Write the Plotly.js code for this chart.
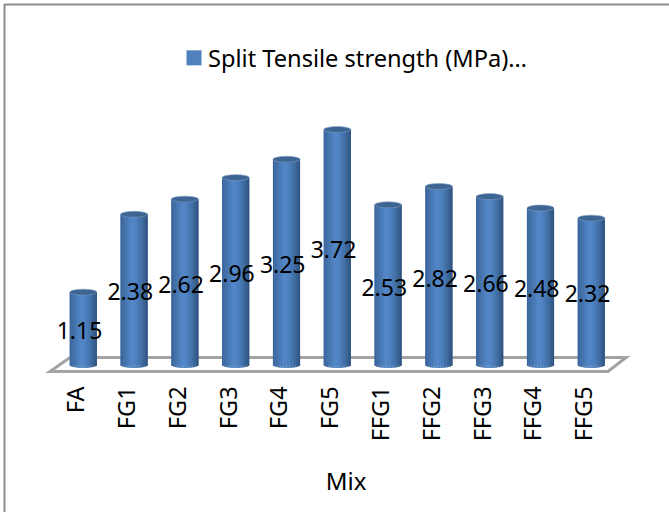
<!DOCTYPE html>
<html>
<head>
<meta charset="utf-8">
<script src="https://cdn.plot.ly/plotly-3.0.1.min.js"></script>
<style>html,body{margin:0;padding:0;background:#fff}#c{width:669px;height:512px}</style>
</head>
<body>
<div id="c"></div>
<script>
var categories = ["FA","FG1","FG2","FG3","FG4","FG5","FFG1","FFG2","FFG3","FFG4","FFG5"];
var values = [1.15,2.38,2.62,2.96,3.25,3.72,2.53,2.82,2.66,2.48,2.32];
var labels = ["1.15","2.38","2.62","2.96","3.25","3.72","2.53","2.82","2.66","2.48","2.32"];
var seriesName = "Split Tensile strength (MPa)…";
var axisTitle = "Mix";

var W=669,H=512,ML=23,MB=138,plotW=W-ML,plotH=H-MB;
var sx=50.8, sy=63.3;              // pixels per unit
var x0=-(76.5-ML)/sx, x1=x0+plotW/sx;
var y1=365/sy, y0=y1-plotH/sy;
var barShift=6.8/sx, labelShift=3/sx, labelDrop=5/sy, barW=27/sx, capH=3/sy;
function dx(p){return x0+(p-ML)/sx;}
function dy(p){return (365-p)/sy;}
function px(p){return (p-ML)/plotW;}
function py(p){return (plotH-p)/plotH;}

function mix(a,b,t){return a.map(function(v,i){return Math.round(v+(b[i]-v)*t);});}
var cL=[58,100,152],cM=[83,136,200],cR=[44,80,122];
function shade(t){ // t in -1..1
  var c = t<-0.15 ? mix(cL,cM,(t+1)/0.85) : mix(cM,cR,Math.pow((t+0.15)/1.15,1.6));
  return "rgb("+c.join(",")+")";
}
var N=18, sx_=[],sb=[],sy_=[],sc=[],w=barW/N;
categories.forEach(function(c,i){
  for(var k=0;k<N;k++){
    var t=-1+(2*k+1)/N, low=-capH*Math.sqrt(1-t*t);
    sx_.push(i+barShift+t*barW/2); sb.push(low); sy_.push(values[i]-low); sc.push(shade(t));
  }
});

var idx=categories.map(function(c,i){return i;});
var traces=[
 {type:"bar",x:idx.map(function(i){return i+barShift;}),y:values,width:barW,marker:{color:"#4f81bd"},showlegend:false,hoverinfo:"skip"},
 {type:"bar",x:sx_,y:sy_,base:sb,width:w*1.15,marker:{color:sc,line:{width:0}},showlegend:false,hoverinfo:"skip"},
 {type:"scatter",mode:"text",x:idx.map(function(i){return i+labelShift;}),y:values.map(function(v){return v/2-labelDrop;}),text:labels,textposition:"middle center",textfont:{family:"Noto Sans",size:23,color:"#000"},showlegend:false,hoverinfo:"skip"},
 {type:"scatter",mode:"markers",name:seriesName,x:[0],y:[-50],marker:{symbol:"square",size:15,color:"#4f81bd"},showlegend:true}
];

var shapes=[
 {type:"path",layer:"below",xref:"x",yref:"y",path:"M"+dx(50)+","+dy(371.5)+"L"+dx(608)+","+dy(371.5)+"L"+dx(626)+","+dy(357.5)+"L"+dx(70)+","+dy(357.5)+"Z",line:{color:"#a3a3a3",width:3},fillcolor:"#fff"},
 {type:"line",xref:"paper",yref:"paper",x0:px(4.5),x1:px(669),y0:py(4.5),y1:py(4.5),line:{color:"#8c8c8c",width:2}},
 {type:"line",xref:"paper",yref:"paper",x0:px(4.5),x1:px(4.5),y0:py(4),y1:py(512),line:{color:"#8c8c8c",width:2}}
];
values.forEach(function(v,i){
  var c=i+barShift;
  shapes.push({type:"circle",xref:"x",yref:"y",x0:c-barW/2,x1:c+barW/2,y0:v-capH,y1:v+capH,fillcolor:"#3c6594",line:{width:0.6,color:"#7f9cc0"}});
});

Plotly.newPlot("c",traces,{
  width:W,height:H,margin:{l:ML,r:0,t:0,b:MB,pad:0},
  paper_bgcolor:"#fff",plot_bgcolor:"rgba(0,0,0,0)",barmode:"overlay",
  font:{family:"Noto Sans",color:"#000"},
  xaxis:{range:[x0,x1],tickmode:"array",tickvals:idx,ticktext:categories,tickangle:-90,ticks:"outside",ticklen:2,tickcolor:"rgba(0,0,0,0)",
         showgrid:false,zeroline:false,showline:false,tickfont:{family:"Noto Sans",size:23.5,color:"#000"},automargin:false,
         title:{text:axisTitle,font:{family:"Noto Sans",size:24,color:"#000"},standoff:32}},
  yaxis:{range:[y0,y1],visible:false,showgrid:false,zeroline:false},
  legend:{x:px(168),xanchor:"left",y:py(58),yanchor:"middle",font:{family:"Noto Sans",size:23.6,color:"#000"},bgcolor:"rgba(0,0,0,0)",itemsizing:"trace",itemwidth:30},
  shapes:shapes
},{displayModeBar:false,staticPlot:true}).then(function(gd){
  var s=gd.querySelector(".legend .legendsymbols");
  if(s) s.setAttribute("transform","translate(6,0)");
});
</script>
</body>
</html>
